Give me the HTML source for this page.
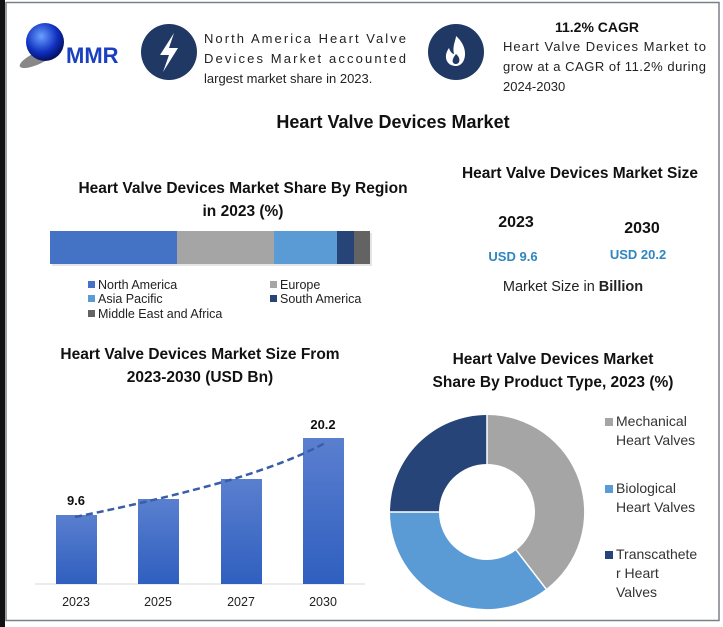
<!DOCTYPE html>
<html><head><meta charset="utf-8"><style>
html,body{margin:0;padding:0;width:723px;height:627px;overflow:hidden;background:#fff}
svg{display:block}
text{font-family:"Liberation Sans",sans-serif}
</style></head><body>
<svg width="723" height="627" viewBox="0 0 723 627">
<defs>
<linearGradient id="bg" x1="0" y1="0" x2="0" y2="1"><stop offset="0" stop-color="#5a7fcf"/><stop offset="1" stop-color="#2f5fbf"/></linearGradient>
<radialGradient id="globe" cx="0.4" cy="0.35" r="0.7"><stop offset="0" stop-color="#6aa0ff"/><stop offset="0.6" stop-color="#1030c0"/><stop offset="1" stop-color="#000a50"/></radialGradient>
</defs>
<rect x="0" y="0" width="723" height="627" fill="#fff"/>
<rect x="0" y="0" width="5" height="627" fill="#111"/>
<rect x="6" y="2.5" width="713" height="618" fill="#fff" stroke="#7a8088" stroke-width="1.5"/>

<ellipse cx="38" cy="58" rx="20" ry="6" fill="#888" transform="rotate(-25 38 58)"/>
<circle cx="45" cy="42" r="19" fill="url(#globe)"/>
<text x="66" y="63" font-family="Liberation Serif,serif" font-size="22" font-weight="bold" fill="#1a3fc0">MMR</text>

<circle cx="169" cy="52" r="28" fill="#1f3864"/>
<path d="M174 33 L160 55 L169 55 L163 72 L178 48 L169 48 Z" fill="#fff"/>
<text font-size="13" fill="#222"><tspan x="204" y="43" textLength="202" lengthAdjust="spacing">North America Heart Valve</tspan><tspan x="204" y="63" textLength="202" lengthAdjust="spacing">Devices Market accounted</tspan><tspan x="204" y="83">largest market share in 2023.</tspan></text>

<circle cx="456" cy="52" r="28" fill="#1f3864"/>
<path d="M456 36 C470 48 466 66 456 66 C446 66 443 56 449 48 C451 54 454 54 454 54 C452 46 456 40 456 36 Z" fill="#fff"/>
<path d="M456 54 C461 58 460 64 456 64 C452 64 451 60 456 54 Z" fill="#1f3864"/>
<text x="597" y="32" font-size="14" font-weight="bold" fill="#111" text-anchor="middle">11.2% CAGR</text>
<text font-size="13" fill="#222"><tspan x="503" y="51" textLength="203" lengthAdjust="spacing">Heart Valve Devices Market to</tspan><tspan x="503" y="71" textLength="203" lengthAdjust="spacing">grow at a CAGR of 11.2% during</tspan><tspan x="503" y="91">2024-2030</tspan></text>

<text x="393" y="128" font-size="18" font-weight="bold" fill="#111" text-anchor="middle">Heart Valve Devices Market</text>

<text x="243" y="193" font-size="15.5" font-weight="bold" fill="#111" text-anchor="middle">Heart Valve Devices Market Share By Region</text>
<text x="243" y="216" font-size="15.5" font-weight="bold" fill="#111" text-anchor="middle">in 2023 (%)</text>
<rect x="52" y="233" width="320" height="33" fill="#ccc" opacity="0.5"/>
<rect x="50" y="231" width="127" height="33" fill="#4472c4"/>
<rect x="177" y="231" width="97" height="33" fill="#a5a5a5"/>
<rect x="274" y="231" width="63" height="33" fill="#5b9bd5"/>
<rect x="337" y="231" width="17" height="33" fill="#264478"/>
<rect x="354" y="231" width="16" height="33" fill="#636363"/>
<g font-size="12.5" fill="#222">
<rect x="88" y="281" width="7" height="7" fill="#4472c4"/><text x="98" y="289">North America</text>
<rect x="270" y="281" width="7" height="7" fill="#a5a5a5"/><text x="280" y="289">Europe</text>
<rect x="88" y="295" width="7" height="7" fill="#5b9bd5"/><text x="98" y="303">Asia Pacific</text>
<rect x="270" y="295" width="7" height="7" fill="#264478"/><text x="280" y="303">South America</text>
<rect x="88" y="310" width="7" height="7" fill="#636363"/><text x="98" y="318">Middle East and Africa</text>
</g>

<text x="580" y="178" font-size="15.5" font-weight="bold" fill="#111" text-anchor="middle">Heart Valve Devices Market Size</text>
<text x="516" y="227" font-size="16" font-weight="bold" fill="#111" text-anchor="middle">2023</text>
<text x="642" y="233" font-size="16" font-weight="bold" fill="#111" text-anchor="middle">2030</text>
<text x="513" y="261" font-size="13" font-weight="bold" fill="#2e86c1" text-anchor="middle">USD 9.6</text>
<text x="638" y="259" font-size="13" font-weight="bold" fill="#2e86c1" text-anchor="middle">USD 20.2</text>
<text x="573" y="291" font-size="14.5" fill="#222" text-anchor="middle">Market Size in <tspan font-weight="bold">Billion</tspan></text>

<text x="200" y="359" font-size="15.5" font-weight="bold" fill="#111" text-anchor="middle">Heart Valve Devices Market Size From</text>
<text x="200" y="382" font-size="15.5" font-weight="bold" fill="#111" text-anchor="middle">2023-2030 (USD Bn)</text>
<line x1="35" y1="584" x2="365" y2="584" stroke="#d9d9d9" stroke-width="1"/>
<rect x="56" y="515" width="41" height="69" fill="url(#bg)"/>
<rect x="138" y="499" width="41" height="85" fill="url(#bg)"/>
<rect x="221" y="479" width="41" height="105" fill="url(#bg)"/>
<rect x="303" y="438" width="41" height="146" fill="url(#bg)"/>
<path d="M75 517 Q160 500 230 480 Q290 462 325 443" fill="none" stroke="#3a5da8" stroke-width="2.5" stroke-dasharray="7,4"/>
<text x="76" y="505" font-size="13" font-weight="bold" fill="#111" text-anchor="middle">9.6</text>
<text x="323" y="429" font-size="13" font-weight="bold" fill="#111" text-anchor="middle">20.2</text>
<g font-size="12.5" fill="#222" text-anchor="middle">
<text x="76" y="606">2023</text><text x="158" y="606">2025</text><text x="241" y="606">2027</text><text x="323" y="606">2030</text>
</g>

<text x="553" y="364" font-size="15.5" font-weight="bold" fill="#111" text-anchor="middle">Heart Valve Devices Market</text>
<text x="553" y="387" font-size="15.5" font-weight="bold" fill="#111" text-anchor="middle">Share By Product Type, 2023 (%)</text>
<path d="M487,415 A97,97 0 0 1 546.1,589 L516.2,550.1 A48,48 0 0 0 487,464 Z" fill="#a5a5a5"/>
<path d="M546.1,589 A97,97 0 0 1 390,512 L439,512 A48,48 0 0 0 516.2,550.1 Z" fill="#5b9bd5"/>
<path d="M390,512 A97,97 0 0 1 487,415 L487,464 A48,48 0 0 0 439,512 Z" fill="#264478"/>
<path d="M487,415 L487,464 M546.1,589 L516.2,550.1 M390,512 L439,512" stroke="#fff" stroke-width="1.5"/>
<g font-size="14" fill="#333">
<rect x="605" y="418" width="8" height="8" fill="#a5a5a5"/><text x="616" y="426">Mechanical</text><text x="616" y="445">Heart Valves</text>
<rect x="605" y="485" width="8" height="8" fill="#5b9bd5"/><text x="616" y="493">Biological</text><text x="616" y="512">Heart Valves</text>
<rect x="605" y="551" width="8" height="8" fill="#264478"/><text x="616" y="559">Transcathete</text><text x="616" y="578">r Heart</text><text x="616" y="597">Valves</text>
</g>
</svg>
</body></html>
